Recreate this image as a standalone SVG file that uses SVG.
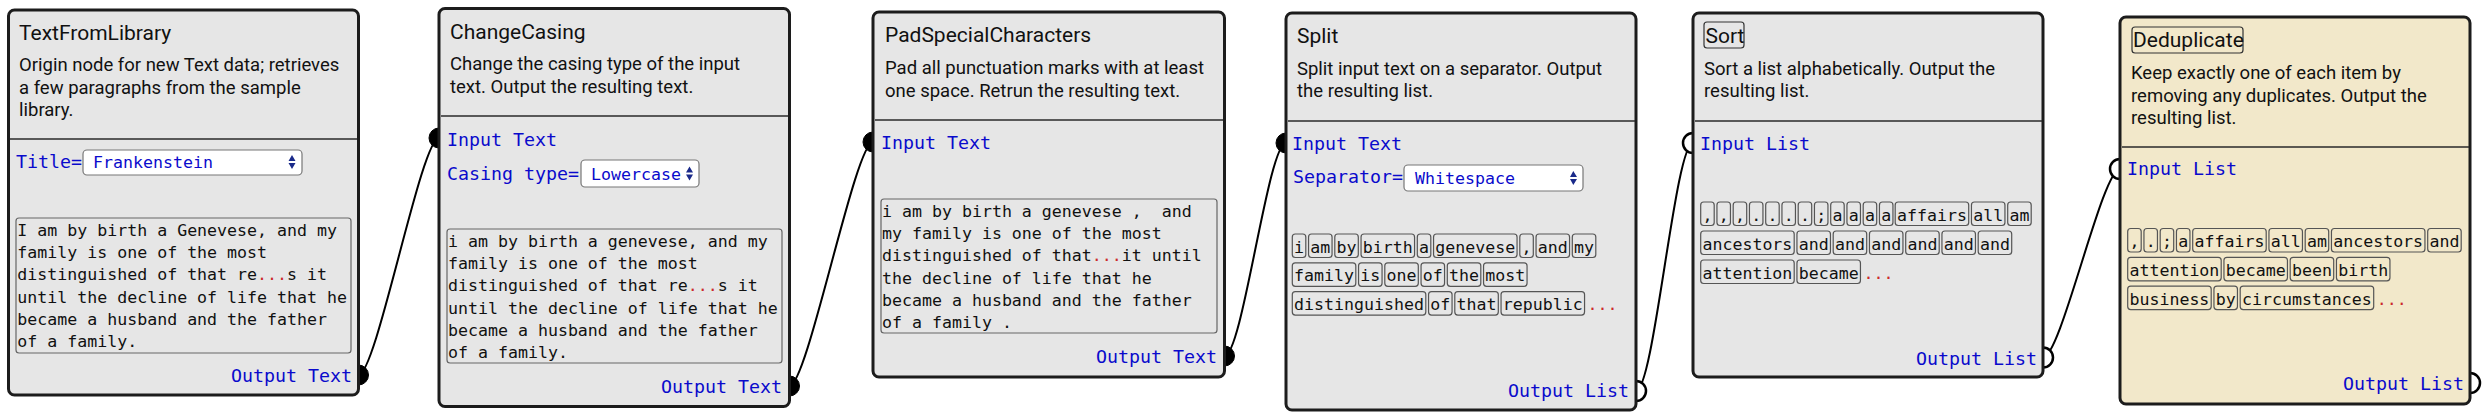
<svg xmlns="http://www.w3.org/2000/svg" width="2490" height="420" viewBox="0 0 2490 420">
<style>
text{white-space:pre}
.box{fill:#e6e6e6;stroke:#1c1c1c;stroke-width:3}
.box.sel{fill:#f2e8ca}
.div{stroke:#2a2a2a;stroke-width:1.5}
.title{font-family:Roboto,"Liberation Sans",sans-serif;font-size:21px;fill:#111}
.desc{font-family:Roboto,"Liberation Sans",sans-serif;font-size:18.5px;fill:#111}
.lbl{font-family:"DejaVu Sans Mono","Liberation Mono",monospace;font-size:18.3px;fill:#0a0acc}
.mono{font-family:"DejaVu Sans Mono","Liberation Mono",monospace;font-size:16.6px;fill:#111}
.opt{font-family:"DejaVu Sans Mono","Liberation Mono",monospace;font-size:16.6px;fill:#0a0acc}
.red{fill:#cc2a2a}
.tbox{fill:none;stroke:#666;stroke-width:1.2}
.tok{fill:none;stroke:#555;stroke-width:1.2}
.tbx{fill:none;stroke:#333;stroke-width:1.2}
.selbox{fill:#fff;stroke:#777;stroke-width:1.2}
.arr{fill:#1a2a8a}
.pf{fill:#000;stroke:#000;stroke-width:1}
.ph{fill:#fff;stroke:#000;stroke-width:2.5}
.conn{fill:none;stroke:#000;stroke-width:2}
</style>

<g id="connectors">
<path class="conn" d="M358.5,375 C376.5,375 421,138 439,138"/>
<path class="conn" d="M789.5,386 C807.5,386 855,142 873,142"/>
<path class="conn" d="M1224.5,356 C1242.5,356 1268,143 1286,143"/>
<path class="conn" d="M1636,391 C1654,391 1675,143 1693,143"/>
<path class="conn" d="M2043,357.5 C2061,357.5 2102,169 2120,169"/>
</g>

<g id="TextFromLibrary">
<circle class="pf" cx="358.5" cy="375" r="10"/>
<rect class="box" x="8.5" y="10" width="350" height="385" rx="6"/>
<text class="title" x="19" y="40">TextFromLibrary</text>
<text class="desc" x="19" y="71">Origin node for new Text data; retrieves</text>
<text class="desc" x="19" y="94">a few paragraphs from the sample</text>
<text class="desc" x="19" y="116">library.</text>
<line class="div" x1="10" y1="139" x2="357" y2="139"/>
<text class="lbl" x="16" y="168">Title=</text>
<rect class="selbox" x="83" y="150" width="219" height="25" rx="4"/>
<text class="opt" x="93" y="168">Frankenstein</text>
<path class="arr" d="M288.5,161 L295.5,161 L292,155 Z M288.5,163 L295.5,163 L292,169 Z"/>
<rect class="tbox" x="16" y="218" width="335" height="135" rx="3"/>
<text class="mono" x="17.3" y="236">I am by birth a Genevese, and my</text>
<text class="mono" x="17.3" y="258.2">family is one of the most</text>
<text class="mono" x="17.3" y="280.4">distinguished of that re<tspan class="red">...</tspan>s it</text>
<text class="mono" x="17.3" y="302.6">until the decline of life that he</text>
<text class="mono" x="17.3" y="324.8">became a husband and the father</text>
<text class="mono" x="17.3" y="347">of a family.</text>
<text class="lbl" x="352" y="382" text-anchor="end">Output Text</text>
</g>

<g id="ChangeCasing">
<circle class="pf" cx="439" cy="138" r="10"/>
<circle class="pf" cx="789.5" cy="386" r="10"/>
<rect class="box" x="439" y="8.5" width="350.5" height="398" rx="6"/>
<text class="title" x="450" y="39">ChangeCasing</text>
<text class="desc" x="450" y="70">Change the casing type of the input</text>
<text class="desc" x="450" y="93">text. Output the resulting text.</text>
<line class="div" x1="441" y1="116" x2="788" y2="116"/>
<text class="lbl" x="447" y="146">Input Text</text>
<text class="lbl" x="447" y="180">Casing type=</text>
<rect class="selbox" x="581" y="160" width="118" height="27" rx="4"/>
<text class="opt" x="591" y="180">Lowercase</text>
<path class="arr" d="M686,172.5 L693,172.5 L689.5,166.5 Z M686,174.5 L693,174.5 L689.5,180.5 Z"/>
<rect class="tbox" x="447" y="229" width="335" height="134" rx="3"/>
<text class="mono" x="448" y="247">i am by birth a genevese, and my</text>
<text class="mono" x="448" y="269.2">family is one of the most</text>
<text class="mono" x="448" y="291.4">distinguished of that re<tspan class="red">...</tspan>s it</text>
<text class="mono" x="448" y="313.6">until the decline of life that he</text>
<text class="mono" x="448" y="335.8">became a husband and the father</text>
<text class="mono" x="448" y="358">of a family.</text>
<text class="lbl" x="782" y="393" text-anchor="end">Output Text</text>
</g>

<g id="PadSpecialCharacters">
<circle class="pf" cx="873" cy="142" r="10"/>
<circle class="pf" cx="1224.5" cy="356" r="10"/>
<rect class="box" x="873" y="12" width="351.5" height="365" rx="6"/>
<text class="title" x="885" y="42">PadSpecialCharacters</text>
<text class="desc" x="885" y="74">Pad all punctuation marks with at least</text>
<text class="desc" x="885" y="97">one space. Retrun the resulting text.</text>
<line class="div" x1="875" y1="120" x2="1223" y2="120"/>
<text class="lbl" x="881" y="149">Input Text</text>
<rect class="tbox" x="881" y="199" width="336" height="134" rx="3"/>
<text class="mono" x="882" y="217">i am by birth a genevese ,  and</text>
<text class="mono" x="882" y="239.2">my family is one of the most</text>
<text class="mono" x="882" y="261.4">distinguished of that<tspan class="red">...</tspan>it until</text>
<text class="mono" x="882" y="283.6">the decline of life that he</text>
<text class="mono" x="882" y="305.8">became a husband and the father</text>
<text class="mono" x="882" y="328">of a family .</text>
<text class="lbl" x="1217" y="363" text-anchor="end">Output Text</text>
</g>

<g id="Split">
<circle class="pf" cx="1286" cy="143" r="10"/>
<circle class="ph" cx="1636" cy="391" r="10"/>
<rect class="box" x="1286" y="13" width="350" height="397" rx="6"/>
<text class="title" x="1297" y="43">Split</text>
<text class="desc" x="1297" y="75">Split input text on a separator. Output</text>
<text class="desc" x="1297" y="97">the resulting list.</text>
<line class="div" x1="1288" y1="121" x2="1635" y2="121"/>
<text class="lbl" x="1292" y="150">Input Text</text>
<text class="lbl" x="1293" y="183">Separator=</text>
<rect class="selbox" x="1404" y="165" width="179" height="26" rx="4"/>
<text class="opt" x="1415" y="184">Whitespace</text>
<path class="arr" d="M1570,177 L1577,177 L1573.3,171 Z M1570,179 L1577,179 L1573.3,185 Z"/>
<g>
<rect class="tok" x="1292.3" y="234" width="13.5" height="23.5" rx="3"/><text class="mono" x="1294.05" y="252.5">i</text>
<rect class="tok" x="1308.55" y="234" width="23.5" height="23.5" rx="3"/><text class="mono" x="1310.3" y="252.5">am</text>
<rect class="tok" x="1334.8" y="234" width="23.5" height="23.5" rx="3"/><text class="mono" x="1336.55" y="252.5">by</text>
<rect class="tok" x="1361.05" y="234" width="53.5" height="23.5" rx="3"/><text class="mono" x="1362.8" y="252.5">birth</text>
<rect class="tok" x="1417.3" y="234" width="13.5" height="23.5" rx="3"/><text class="mono" x="1419.05" y="252.5">a</text>
<rect class="tok" x="1433.55" y="234" width="83.5" height="23.5" rx="3"/><text class="mono" x="1435.3" y="252.5">genevese</text>
<rect class="tok" x="1519.8" y="234" width="13.5" height="23.5" rx="3"/><text class="mono" x="1521.55" y="252.5">,</text>
<rect class="tok" x="1536.05" y="234" width="33.5" height="23.5" rx="3"/><text class="mono" x="1537.8" y="252.5">and</text>
<rect class="tok" x="1572.3" y="234" width="23.5" height="23.5" rx="3"/><text class="mono" x="1574.05" y="252.5">my</text>
<rect class="tok" x="1292.3" y="262.8" width="63.5" height="23.5" rx="3"/><text class="mono" x="1294.05" y="281.3">family</text>
<rect class="tok" x="1358.55" y="262.8" width="23.5" height="23.5" rx="3"/><text class="mono" x="1360.3" y="281.3">is</text>
<rect class="tok" x="1384.8" y="262.8" width="33.5" height="23.5" rx="3"/><text class="mono" x="1386.55" y="281.3">one</text>
<rect class="tok" x="1421.05" y="262.8" width="23.5" height="23.5" rx="3"/><text class="mono" x="1422.8" y="281.3">of</text>
<rect class="tok" x="1447.3" y="262.8" width="33.5" height="23.5" rx="3"/><text class="mono" x="1449.05" y="281.3">the</text>
<rect class="tok" x="1483.55" y="262.8" width="43.5" height="23.5" rx="3"/><text class="mono" x="1485.3" y="281.3">most</text>
<rect class="tok" x="1292.3" y="291.6" width="133.5" height="23.5" rx="3"/><text class="mono" x="1294.05" y="310.1">distinguished</text>
<rect class="tok" x="1428.55" y="291.6" width="23.5" height="23.5" rx="3"/><text class="mono" x="1430.3" y="310.1">of</text>
<rect class="tok" x="1454.8" y="291.6" width="43.5" height="23.5" rx="3"/><text class="mono" x="1456.55" y="310.1">that</text>
<rect class="tok" x="1501.05" y="291.6" width="83.5" height="23.5" rx="3"/><text class="mono" x="1502.8" y="310.1">republic</text>
<text class="mono red" x="1587.5" y="310.1">...</text>
</g>
<text class="lbl" x="1629" y="397" text-anchor="end">Output List</text>
</g>

<g id="Sort">
<circle class="ph" cx="1693" cy="143" r="10"/>
<circle class="ph" cx="2043" cy="357.5" r="10"/>
<rect class="box" x="1693" y="13" width="350" height="364" rx="6"/>
<rect class="tbx" x="1704" y="22" width="40" height="26" rx="3"/>
<text class="title" x="1705.5" y="43">Sort</text>
<text class="desc" x="1704" y="75">Sort a list alphabetically. Output the</text>
<text class="desc" x="1704" y="97">resulting list.</text>
<line class="div" x1="1695" y1="121" x2="2042" y2="121"/>
<text class="lbl" x="1700" y="150">Input List</text>
<g>
<rect class="tok" x="1700.7" y="202" width="13.5" height="23.5" rx="3"/><text class="mono" x="1702.45" y="220.5">,</text>
<rect class="tok" x="1716.95" y="202" width="13.5" height="23.5" rx="3"/><text class="mono" x="1718.7" y="220.5">,</text>
<rect class="tok" x="1733.2" y="202" width="13.5" height="23.5" rx="3"/><text class="mono" x="1734.95" y="220.5">,</text>
<rect class="tok" x="1749.45" y="202" width="13.5" height="23.5" rx="3"/><text class="mono" x="1751.2" y="220.5">.</text>
<rect class="tok" x="1765.7" y="202" width="13.5" height="23.5" rx="3"/><text class="mono" x="1767.45" y="220.5">.</text>
<rect class="tok" x="1781.95" y="202" width="13.5" height="23.5" rx="3"/><text class="mono" x="1783.7" y="220.5">.</text>
<rect class="tok" x="1798.2" y="202" width="13.5" height="23.5" rx="3"/><text class="mono" x="1799.95" y="220.5">.</text>
<rect class="tok" x="1814.45" y="202" width="13.5" height="23.5" rx="3"/><text class="mono" x="1816.2" y="220.5">;</text>
<rect class="tok" x="1830.7" y="202" width="13.5" height="23.5" rx="3"/><text class="mono" x="1832.45" y="220.5">a</text>
<rect class="tok" x="1846.95" y="202" width="13.5" height="23.5" rx="3"/><text class="mono" x="1848.7" y="220.5">a</text>
<rect class="tok" x="1863.2" y="202" width="13.5" height="23.5" rx="3"/><text class="mono" x="1864.95" y="220.5">a</text>
<rect class="tok" x="1879.45" y="202" width="13.5" height="23.5" rx="3"/><text class="mono" x="1881.2" y="220.5">a</text>
<rect class="tok" x="1895.2" y="202" width="73.5" height="23.5" rx="3"/><text class="mono" x="1896.95" y="220.5">affairs</text>
<rect class="tok" x="1971.45" y="202" width="33.5" height="23.5" rx="3"/><text class="mono" x="1973.2" y="220.5">all</text>
<rect class="tok" x="2007.7" y="202" width="23.5" height="23.5" rx="3"/><text class="mono" x="2009.45" y="220.5">am</text>
<rect class="tok" x="1700.7" y="231" width="93.5" height="23.5" rx="3"/><text class="mono" x="1702.45" y="249.5">ancestors</text>
<rect class="tok" x="1796.95" y="231" width="33.5" height="23.5" rx="3"/><text class="mono" x="1798.7" y="249.5">and</text>
<rect class="tok" x="1833.2" y="231" width="33.5" height="23.5" rx="3"/><text class="mono" x="1834.95" y="249.5">and</text>
<rect class="tok" x="1869.45" y="231" width="33.5" height="23.5" rx="3"/><text class="mono" x="1871.2" y="249.5">and</text>
<rect class="tok" x="1905.7" y="231" width="33.5" height="23.5" rx="3"/><text class="mono" x="1907.45" y="249.5">and</text>
<rect class="tok" x="1941.95" y="231" width="33.5" height="23.5" rx="3"/><text class="mono" x="1943.7" y="249.5">and</text>
<rect class="tok" x="1978.2" y="231" width="33.5" height="23.5" rx="3"/><text class="mono" x="1979.95" y="249.5">and</text>
<rect class="tok" x="1700.7" y="260" width="93.5" height="23.5" rx="3"/><text class="mono" x="1702.45" y="278.5">attention</text>
<rect class="tok" x="1796.95" y="260" width="63.5" height="23.5" rx="3"/><text class="mono" x="1798.7" y="278.5">became</text>
<text class="mono red" x="1863.5" y="278.5">...</text>
</g>
<text class="lbl" x="2037" y="365" text-anchor="end">Output List</text>
</g>

<g id="Deduplicate">
<circle class="ph" cx="2120" cy="169" r="10"/>
<circle class="ph" cx="2470" cy="383" r="10"/>
<rect class="box sel" x="2120" y="17" width="350" height="387" rx="6"/>
<rect class="tbx" x="2132" y="27" width="111" height="26" rx="3"/>
<text class="title" x="2133" y="47">Deduplicate</text>
<text class="desc" x="2131" y="79">Keep exactly one of each item by</text>
<text class="desc" x="2131" y="101.5">removing any duplicates. Output the</text>
<text class="desc" x="2131" y="124">resulting list.</text>
<line class="div" x1="2122" y1="147" x2="2469" y2="147"/>
<text class="lbl" x="2127" y="175">Input List</text>
<g>
<rect class="tok" x="2127.7" y="228.5" width="13.5" height="23.5" rx="3"/><text class="mono" x="2129.45" y="247">,</text>
<rect class="tok" x="2143.95" y="228.5" width="13.5" height="23.5" rx="3"/><text class="mono" x="2145.7" y="247">.</text>
<rect class="tok" x="2160.2" y="228.5" width="13.5" height="23.5" rx="3"/><text class="mono" x="2161.95" y="247">;</text>
<rect class="tok" x="2176.45" y="228.5" width="13.5" height="23.5" rx="3"/><text class="mono" x="2178.2" y="247">a</text>
<rect class="tok" x="2192.7" y="228.5" width="73.5" height="23.5" rx="3"/><text class="mono" x="2194.45" y="247">affairs</text>
<rect class="tok" x="2268.95" y="228.5" width="33.5" height="23.5" rx="3"/><text class="mono" x="2270.7" y="247">all</text>
<rect class="tok" x="2305.2" y="228.5" width="23.5" height="23.5" rx="3"/><text class="mono" x="2306.95" y="247">am</text>
<rect class="tok" x="2331.45" y="228.5" width="93.5" height="23.5" rx="3"/><text class="mono" x="2333.2" y="247">ancestors</text>
<rect class="tok" x="2427.7" y="228.5" width="33.5" height="23.5" rx="3"/><text class="mono" x="2429.45" y="247">and</text>
<rect class="tok" x="2127.7" y="257.3" width="93.5" height="23.5" rx="3"/><text class="mono" x="2129.45" y="275.8">attention</text>
<rect class="tok" x="2223.95" y="257.3" width="63.5" height="23.5" rx="3"/><text class="mono" x="2225.7" y="275.8">became</text>
<rect class="tok" x="2290.2" y="257.3" width="43.5" height="23.5" rx="3"/><text class="mono" x="2291.95" y="275.8">been</text>
<rect class="tok" x="2336.45" y="257.3" width="53.5" height="23.5" rx="3"/><text class="mono" x="2338.2" y="275.8">birth</text>
<rect class="tok" x="2127.7" y="286.1" width="83.5" height="23.5" rx="3"/><text class="mono" x="2129.45" y="304.6">business</text>
<rect class="tok" x="2213.95" y="286.1" width="23.5" height="23.5" rx="3"/><text class="mono" x="2215.7" y="304.6">by</text>
<rect class="tok" x="2240.2" y="286.1" width="133.5" height="23.5" rx="3"/><text class="mono" x="2241.95" y="304.6">circumstances</text>
<text class="mono red" x="2376.7" y="304.6">...</text>
</g>
<text class="lbl" x="2464" y="390" text-anchor="end">Output List</text>
</g>
</svg>
